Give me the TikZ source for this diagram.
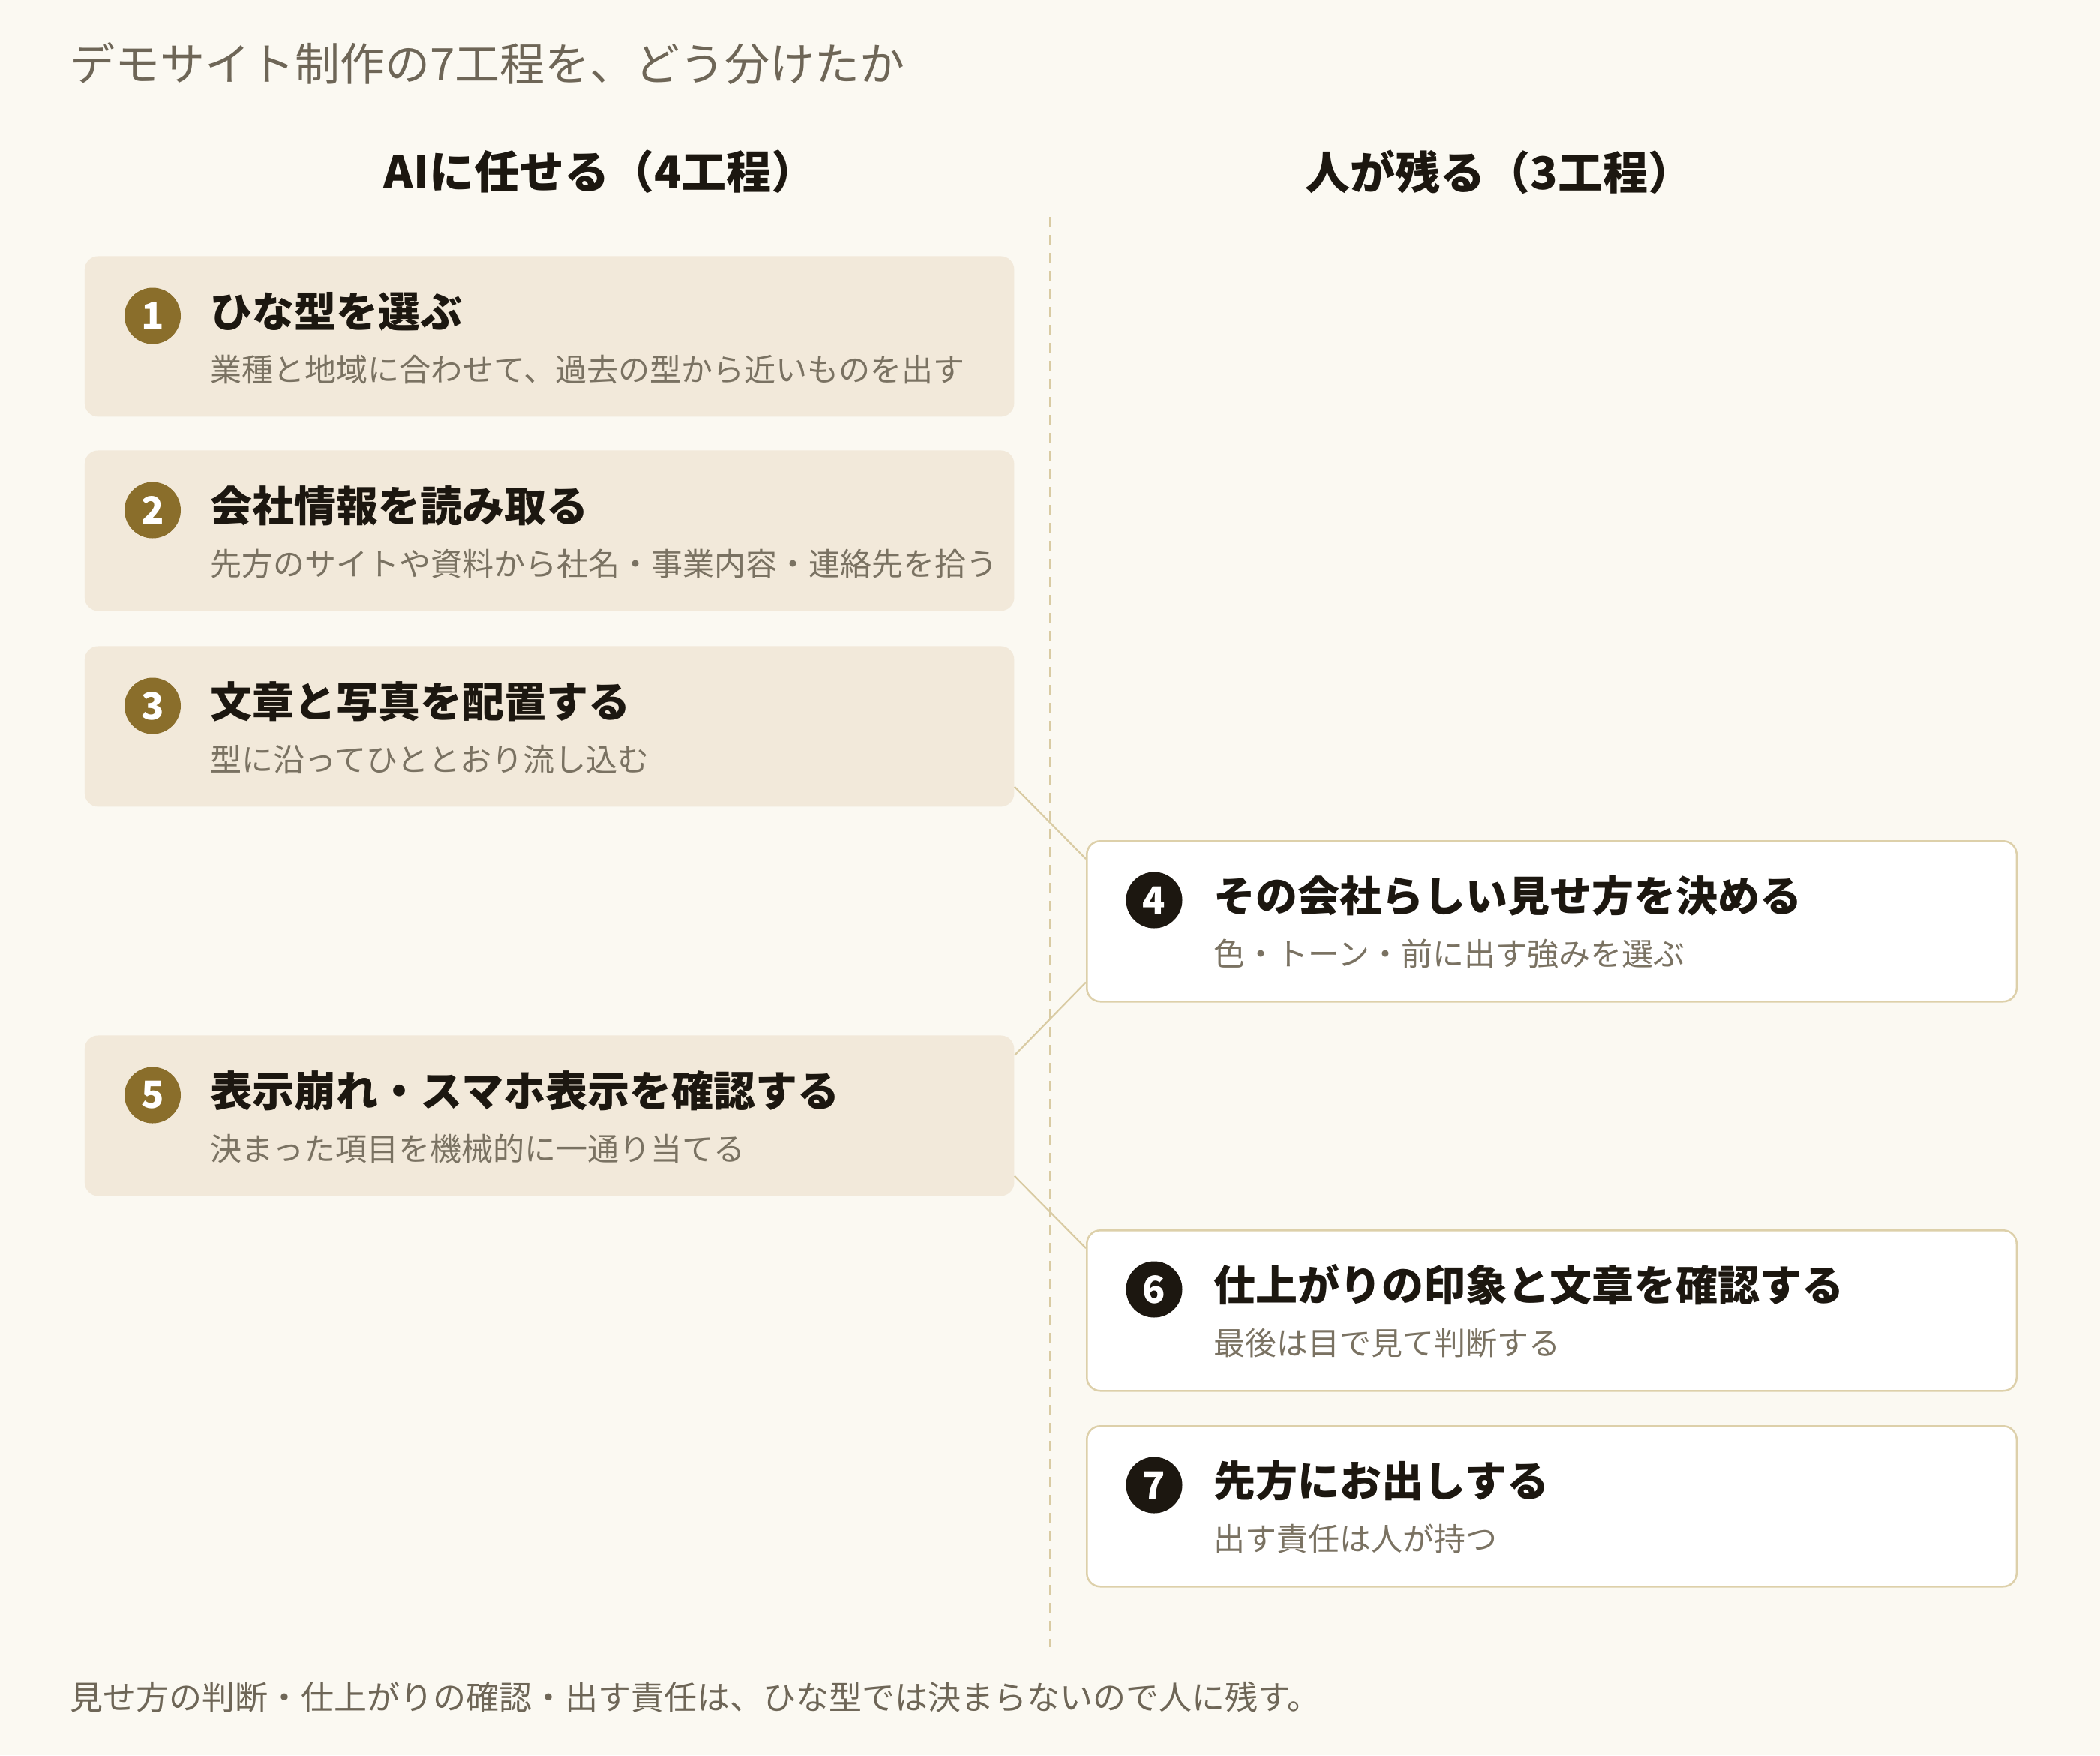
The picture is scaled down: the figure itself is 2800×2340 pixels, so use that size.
\documentclass[tikz,border=0pt]{standalone}
\usepackage{fontspec}
\setmainfont{Noto Sans CJK JP}
\usetikzlibrary{calc}
\definecolor{bgc}{HTML}{FBF9F2}
\definecolor{aifill}{HTML}{F2E9DA}
\definecolor{hborder}{HTML}{DDD0AA}
\definecolor{goldc}{HTML}{8A6E2B}
\definecolor{darkc}{HTML}{1C1710}
\definecolor{greyc}{HTML}{6E6657}
\definecolor{subc}{HTML}{7A7262}
\definecolor{linec}{HTML}{D9CBA3}
\tikzset{
  aibox/.style={fill=aifill, draw=none, rounded corners=9pt, minimum width=619.75pt, minimum height=107pt, anchor=north west, inner sep=0pt},
  humanbox/.style={fill=white, draw=hborder, line width=1.25pt, rounded corners=9pt, minimum width=619.75pt, minimum height=107pt, anchor=north west, inner sep=0pt},
  aicirc/.style={circle, fill=goldc, minimum size=37.5pt, inner sep=0pt, text=white, font=\fontsize{25}{25}\selectfont\bfseries},
  hcirc/.style={circle, fill=darkc, minimum size=37.5pt, inner sep=0pt, text=white, font=\fontsize{25}{25}\selectfont\bfseries},
  steptitle/.style={anchor=base west, inner sep=0pt, text=darkc, font=\fontsize{28}{28}\selectfont\bfseries},
  stepsub/.style={anchor=base west, inner sep=0pt, text=subc, font=\fontsize{21}{21}\selectfont},
  colhead/.style={anchor=center, inner sep=0pt, text=darkc, font=\fontsize{30}{30}\selectfont\bfseries},
  plaintext/.style={anchor=west, inner sep=0pt, text=greyc},
  conn/.style={draw=linec, line width=1.1pt},
  divider/.style={draw=linec, line width=1.25pt, dash pattern=on 7pt off 5pt}
}
\begin{document}
\begin{tikzpicture}[x=0.5pt,y=-0.5pt]
\useasboundingbox (0,0) rectangle (2800,2340);
\fill[bgc] (0,0) rectangle (2800,2340);

\node[plaintext, font=\fontsize{30}{30}\selectfont] (title) at (93,84) {デモサイト制作の7工程を、どう分けたか};

\node[colhead] (hai) at (800,229) {AIに任せる（4工程）};
\node[colhead] (hhu) at (1999,229) {人が残る（3工程）};

\coordinate (dtop) at (1400,289);
\coordinate (dbot) at (1400,2196);
\draw[divider] (dtop) -- (dbot);

% left boxes
\node[aibox] (b1) at (112.5,341) {};
\node[aibox] (b2) at (112.5,600) {};
\node[aibox] (b3) at (112.5,861) {};
\node[aibox] (b5) at (112.5,1380) {};
% right boxes
\node[humanbox] (b4) at (1448,1120) {};
\node[humanbox] (b6) at (1448,1639) {};
\node[humanbox] (b7) at (1448,1900) {};

% connectors
\draw[conn] ($(b3.south east)+(0,-27)$) -- ($(b4.north west)+(0,25)$);
\draw[conn] ($(b4.south west)+(0,-27)$) -- ($(b5.north east)+(0,27)$);
\draw[conn] ($(b5.south east)+(0,-27)$) -- ($(b6.north west)+(0,25)$);

% step 1
\node[aicirc] (c1) at ($(b1.north west)+(91,80)$) {1};
\node[steptitle] (t1) at ($(b1.north west)+(168,95)$) {ひな型を選ぶ};
\node[stepsub] (s1) at ($(b1.north west)+(168,167)$) {業種と地域に合わせて、過去の型から近いものを出す};
% step 2
\node[aicirc] (c2) at ($(b2.north west)+(91,80)$) {2};
\node[steptitle] (t2) at ($(b2.north west)+(168,95)$) {会社情報を読み取る};
\node[stepsub] (s2) at ($(b2.north west)+(168,167)$) {先方のサイトや資料から社名・事業内容・連絡先を拾う};
% step 3
\node[aicirc] (c3) at ($(b3.north west)+(91,80)$) {3};
\node[steptitle] (t3) at ($(b3.north west)+(168,95)$) {文章と写真を配置する};
\node[stepsub] (s3) at ($(b3.north west)+(168,167)$) {型に沿ってひととおり流し込む};
% step 5
\node[aicirc] (c5) at ($(b5.north west)+(91,80)$) {5};
\node[steptitle] (t5) at ($(b5.north west)+(168,95)$) {表示崩れ・スマホ表示を確認する};
\node[stepsub] (s5) at ($(b5.north west)+(168,167)$) {決まった項目を機械的に一通り当てる};
% step 4
\node[hcirc] (c4) at ($(b4.north west)+(91,80)$) {4};
\node[steptitle] (t4) at ($(b4.north west)+(170,95)$) {その会社らしい見せ方を決める};
\node[stepsub] (s4) at ($(b4.north west)+(170,167)$) {色・トーン・前に出す強みを選ぶ};
% step 6
\node[hcirc] (c6) at ($(b6.north west)+(91,80)$) {6};
\node[steptitle] (t6) at ($(b6.north west)+(170,95)$) {仕上がりの印象と文章を確認する};
\node[stepsub] (s6) at ($(b6.north west)+(170,167)$) {最後は目で見て判断する};
% step 7
\node[hcirc] (c7) at ($(b7.north west)+(91,80)$) {7};
\node[steptitle] (t7) at ($(b7.north west)+(170,95)$) {先方にお出しする};
\node[stepsub] (s7) at ($(b7.north west)+(170,167)$) {出す責任は人が持つ};

\node[plaintext, font=\fontsize{22}{22}\selectfont] (foot) at (93,2263) {見せ方の判断・仕上がりの確認・出す責任は、ひな型では決まらないので人に残す。};
\end{tikzpicture}
\end{document}
